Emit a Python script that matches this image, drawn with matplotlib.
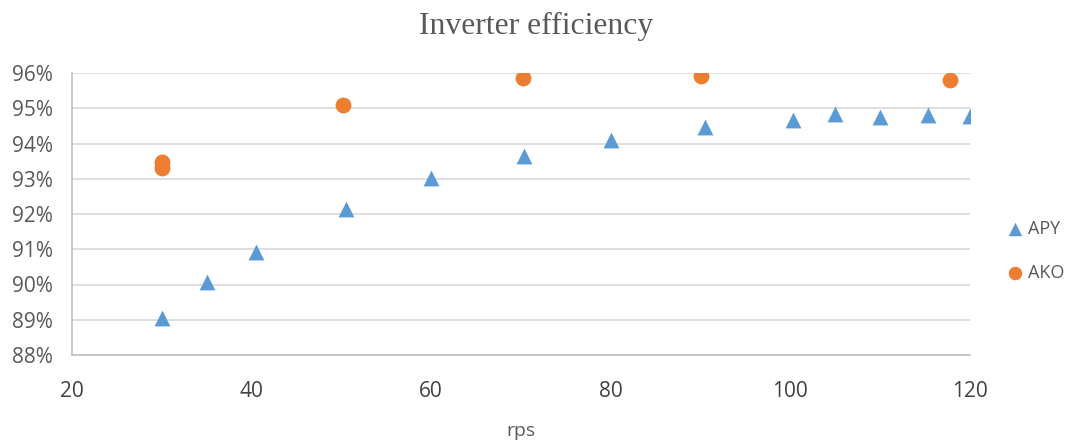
import matplotlib
matplotlib.use("Agg")
import matplotlib.pyplot as plt
from matplotlib.ticker import FuncFormatter

apy_rps = [30, 35, 40.5, 50.5, 60, 70.3, 80, 90.5, 100.3, 105, 110, 115.3, 120]
apy_eff = [89.05, 90.08, 90.92, 92.13, 93.03, 93.64, 94.09, 94.47, 94.68, 94.85, 94.74, 94.8, 94.77]
ako_rps = [30, 30, 50.2, 70.2, 90, 117.8]
ako_eff = [93.47, 93.3, 95.08, 95.86, 95.92, 95.8]

title = "Inverter efficiency"
xlabel = "rps"
series_names = ["APY", "AKO"]

plt.rcParams['font.family'] = ['Open Sans', 'DejaVu Sans']

fig = plt.figure(figsize=(10.73, 4.41), dpi=100)
ax = fig.add_axes([72/1073, (441-355)/441, (970-72)/1073, (355-73)/441])

ax.scatter(apy_rps, apy_eff, marker='^', s=130, color='#5b9bd5', label=series_names[0], zorder=3, linewidths=0)
ax.scatter(ako_rps, ako_eff, marker='o', s=130, color='#ed7d31', label=series_names[1], zorder=3, linewidths=0)

ax.set_xlim(20, 120)
ax.set_ylim(88, 96)
ax.set_xticks(range(20, 121, 20))
ax.set_yticks(range(88, 97, 1))
ax.yaxis.set_major_formatter(FuncFormatter(lambda v, p: f"{v:.0f}%"))
ax.grid(axis='y', color='#d9d9d9', linewidth=1.2)
ax.set_axisbelow(True)
for s in ['top', 'right']:
    ax.spines[s].set_visible(False)
for s in ['left', 'bottom']:
    ax.spines[s].set_color('#bfbfbf')
    ax.spines[s].set_linewidth(1.2)
ax.tick_params(axis='both', length=0)
ax.tick_params(axis='y', labelsize=15, labelcolor='#595959', pad=14)
ax.tick_params(axis='x', labelsize=15, labelcolor='#404040', pad=19)
ax.set_xlabel(xlabel, fontsize=14, color='#595959', labelpad=14)

fig.text(0.5, 0.94, title, ha='center', va='center', fontsize=22.8, color='#595959', family='Liberation Serif')

leg = ax.legend(loc='center left', bbox_to_anchor=(1.022, 0.37), frameon=False, fontsize=13,
                handlelength=1.0, handletextpad=0.2, labelspacing=1.45, markerscale=0.85)
for t in leg.get_texts():
    t.set_color('#595959')

fig.savefig('out.png', dpi=100)
